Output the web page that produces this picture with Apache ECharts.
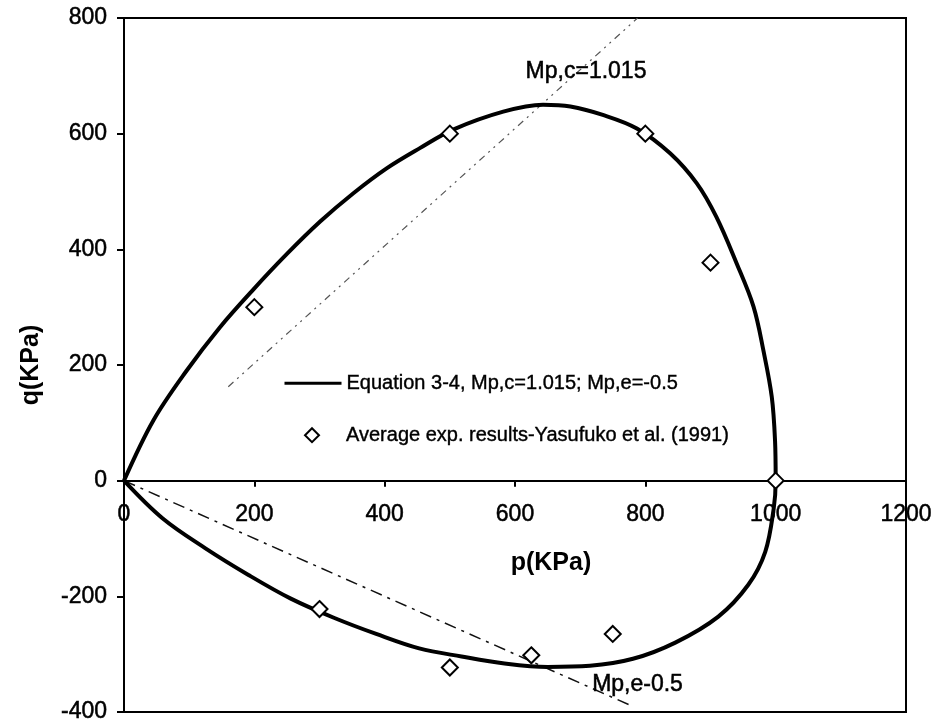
<!DOCTYPE html>
<html>
<head>
<meta charset="utf-8">
<script src="https://cdn.jsdelivr.net/npm/echarts@6/dist/echarts.min.js"></script>
<style>
  html, body { margin: 0; padding: 0; background: #fff; }
  #chart { width: 940px; height: 725px; }
</style>
</head>
<body>
<div id="chart"></div>
<script>
// Yield surface from Equation 3-4, traced as (p, q) pairs around the loop (kPa):
// compression branch from the origin out to p = 1000, then the extension branch back
const yieldCurve = [
  [0, 0], [45, 104], [96, 190], [147, 265], [198, 330], [250, 392], [301, 448],
  [352, 497], [403, 540], [454, 575], [505, 607], [582, 638], [643, 650],
  [685, 647], [736, 632], [787, 609], [838, 566], [879, 514], [909, 456],
  [940, 376], [966, 301], [981, 226], [994, 145], [999, 70], [1000, 0],
  [997, -48], [984, -123], [958, -180], [912, -235], [846, -280], [781, -308],
  [715, -320], [650, -322], [584, -316], [518, -304], [453, -290], [387, -265],
  [322, -237], [256, -204], [191, -163], [125, -117], [59, -65], [0, 0]
];

// Averaged test results, Yasufuko et al. (1991)
const expResults = [
  [200, 300], [500, 600], [800, 600], [900, 377], [1000, 0],
  [300, -222], [500, -323], [625, -302], [750, -265]
];

// Critical state slopes and the p-range over which each line is drawn
const mpc = 1.015;
const mpcRange = [160, 788];
const mpe = -0.5;
const mpeRange = [0, 780];

const xTicks = { min: 0, max: 1200, step: 200 };
const yTicks = { min: -400, max: 800, step: 200 };

const legendNames = [
  'Equation 3-4, Mp,c=1.015; Mp,e=-0.5',
  'Average exp. results-Yasufuko et al. (1991)'
];

const mpcLine = mpcRange.map(p => [p, mpc * p]);
const mpeLine = mpeRange.map(p => [p, mpe * p]);

const FONT = '"Liberation Sans", Arial, Helvetica, sans-serif';
// slightly heavier strokes for the printed-looking lettering
const INK = { color: '#000', textBorderColor: '#000', textBorderWidth: 0.5 };

const GRID = { left: 124, right: 34, top: 18, bottom: 13 };
const plotHeight = 725 - GRID.top - GRID.bottom;
// lift the p axis from the frame bottom up to q = 0
const zeroLift = plotHeight * (0 - yTicks.min) / (yTicks.max - yTicks.min);

const plain = v => String(v);

const chart = echarts.init(document.getElementById('chart'), null, { renderer: 'canvas' });

chart.setOption({
  animation: false,
  backgroundColor: '#fff',
  textStyle: { fontFamily: FONT, color: '#000' },
  grid: {
    left: GRID.left, right: GRID.right, top: GRID.top, bottom: GRID.bottom,
    outerBoundsMode: 'none',
    containLabel: false,
    show: true, borderColor: '#000', borderWidth: 2, backgroundColor: 'transparent'
  },
  legend: [
    {
      data: [{ name: legendNames[0], itemStyle: { opacity: 0 }, lineStyle: { width: 3, color: '#000' } }],
      left: 283, top: 373, padding: 0,
      itemWidth: 57, itemHeight: 14,
      textStyle: Object.assign({ fontFamily: FONT, fontSize: 20, lineHeight: 20 }, INK, { textBorderWidth: 0.4 }),
      selectedMode: false
    },
    {
      data: [{ name: legendNames[1] }],
      left: 304, top: 425, padding: 0,
      itemWidth: 14, itemHeight: 14,
      textStyle: Object.assign({ fontFamily: FONT, fontSize: 20, lineHeight: 20, padding: [0, 0, 0, 22] }, INK, { textBorderWidth: 0.4 }),
      selectedMode: false
    }
  ],
  xAxis: {
    type: 'value',
    position: 'bottom',
    offset: -zeroLift,
    min: xTicks.min, max: xTicks.max, interval: xTicks.step,
    name: 'p(KPa)',
    nameLocation: 'middle',
    nameGap: 70,
    nameTextStyle: { fontFamily: FONT, fontSize: 25, fontWeight: 'bold', color: '#000', padding: [0, 0, 0, 72] },
    axisLine: { show: true, onZero: false, lineStyle: { color: '#000', width: 2 } },
    axisTick: { show: true, inside: false, length: 6, lineStyle: { color: '#000', width: 2 } },
    axisLabel: Object.assign({ fontFamily: FONT, fontSize: 23, margin: 22, formatter: plain, showMinLabel: true, showMaxLabel: true }, INK),
    splitLine: { show: false }
  },
  yAxis: {
    type: 'value',
    min: yTicks.min, max: yTicks.max, interval: yTicks.step,
    name: 'q(KPa)',
    nameLocation: 'middle',
    nameGap: 80,
    nameRotate: 90,
    nameTextStyle: { fontFamily: FONT, fontSize: 25, fontWeight: 'bold', color: '#000' },
    axisLine: { show: true, onZero: false, lineStyle: { color: '#000', width: 2 } },
    axisTick: { show: true, inside: false, length: 7, lineStyle: { color: '#000', width: 2 } },
    axisLabel: Object.assign({ fontFamily: FONT, fontSize: 23, margin: 17, formatter: plain }, INK),
    splitLine: { show: false }
  },
  series: [
    {
      name: 'Mp,c line',
      type: 'line',
      data: mpcLine,
      showSymbol: false,
      symbol: 'none',
      silent: true,
      lineStyle: { color: '#555', width: 1.2, type: [7, 5, 2, 5, 2, 5] },
      markPoint: {
        symbol: 'circle', symbolSize: 1,
        itemStyle: { color: 'rgba(0,0,0,0)' },
        label: Object.assign({ show: true, position: 'inside', formatter: 'Mp,c=1.015', fontFamily: FONT, fontSize: 23 }, INK),
        data: [{ coord: [709, 707] }]
      }
    },
    {
      name: 'Mp,e line',
      type: 'line',
      data: mpeLine,
      showSymbol: false,
      symbol: 'none',
      silent: true,
      lineStyle: { color: '#111', width: 1.5, type: [12, 6, 3, 6] },
      markPoint: {
        symbol: 'circle', symbolSize: 1,
        itemStyle: { color: 'rgba(0,0,0,0)' },
        label: Object.assign({ show: true, position: 'inside', formatter: 'Mp,e-0.5', fontFamily: FONT, fontSize: 23 }, INK),
        data: [{ coord: [788, -353] }]
      }
    },
    {
      name: legendNames[0],
      type: 'line',
      data: yieldCurve,
      smooth: 0.35,
      showSymbol: false,
      symbol: 'none',
      lineStyle: { color: '#000', width: 4 },
      itemStyle: { color: '#000' }
    },
    {
      name: legendNames[1],
      type: 'scatter',
      data: expResults,
      symbol: 'diamond',
      symbolSize: 16,
      symbolKeepAspect: true,
      itemStyle: { color: '#fff', borderColor: '#000', borderWidth: 2, opacity: 1 },
      z: 5
    }
  ]
});
</script>
</body>
</html>
